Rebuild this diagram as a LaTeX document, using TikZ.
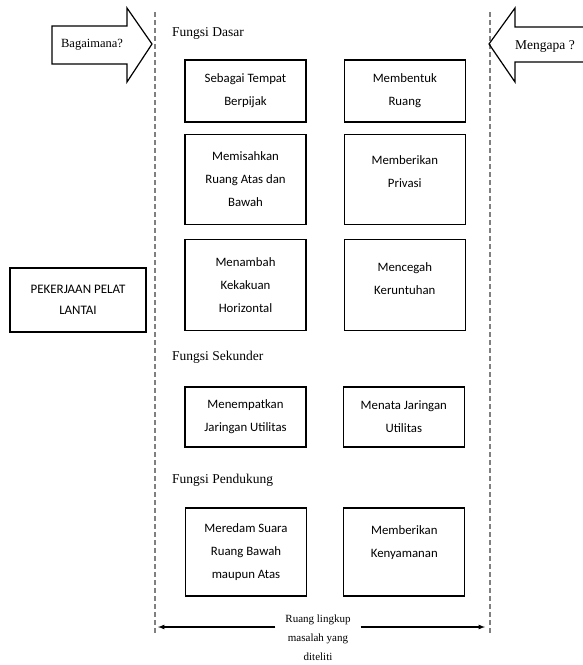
\documentclass[tikz,border=0pt]{standalone}
\usepackage{fontspec}
\setmainfont{Liberation Serif}
\newfontfamily\boxfont{Carlito}
\usetikzlibrary{positioning}

\tikzset{
	fungsi/.style={draw, line width=1.3pt, minimum width=121pt, align=center, inner sep=0pt,
		font=\boxfont\fontsize{12.8}{23}\selectfont},
	judul/.style={anchor=west, inner sep=0pt, font=\fontsize{13.5}{16}\selectfont},
	batas/.style={draw=gray, line width=1.2pt, dash pattern=on 5pt off 3pt},
	panah/.style={draw, line width=1.2pt, line join=miter},
}

\begin{document}
\begin{tikzpicture}[x=1pt,y=-1pt]
	\useasboundingbox (0,0) rectangle (583,665);

	% garis batas ruang lingkup
	\draw[batas] (155,12) -- (155,635);
	\draw[batas] (490,12) -- (490,635);

	% panah pertanyaan
	\draw[panah] (52,26) -- (127,26) -- (127,8) -- (152,44) -- (127,82) -- (127,64) -- (52,64) -- cycle;
	\node[font=\fontsize{12.5}{15}\selectfont] (bagaimana) at (92,45) {Bagaimana?};
	\draw[panah] (590,27) -- (515,27) -- (515,8) -- (489,44) -- (515,82) -- (515,62) -- (590,62);
	\node[font=\fontsize{13.5}{15}\selectfont] (mengapa) at (545,46) {Mengapa ?};

	% objek
	\node[fungsi, font=\boxfont\fontsize{13}{21}\selectfont, minimum width=136pt, minimum height=64pt] (pelat) at (78,300) {PEKERJAAN PELAT\\LANTAI};

	% fungsi dasar
	\node[judul] (dasar) at (172,33) {Fungsi Dasar};
	\node[fungsi, minimum height=62pt] (pijak) at (245.5,91) {Sebagai Tempat\\Berpijak};
	\node[fungsi, minimum height=62pt, right=37pt of pijak] (bentuk) {Membentuk\\Ruang};
	\node[fungsi, minimum height=90pt, below=11pt of pijak] (pisah) {Memisahkan\\Ruang Atas dan\\Bawah};
	\node[fungsi, minimum height=90pt, below=11pt of bentuk] (privasi) {Memberikan\\Privasi\\[-7pt]};
	\node[fungsi, minimum height=91pt, below=14pt of pisah] (kaku) {Menambah\\Kekakuan\\Horizontal};
	\node[fungsi, minimum height=91pt, below=14pt of privasi] (runtuh) {Mencegah\\Keruntuhan\\[-9pt]};

	% fungsi sekunder
	\node[judul] (sekunder) at (172,357) {Fungsi Sekunder};
	\node[fungsi, minimum height=60pt] (tempatkan) at (245.5,417) {Menempatkan\\Jaringan Utilitas};
	\node[fungsi, minimum height=60pt, right=36pt of tempatkan] (tata) {Menata Jaringan\\Utilitas};

	% fungsi pendukung
	\node[judul] (pendukung) at (172,480) {Fungsi Pendukung};
	\node[fungsi, minimum height=88pt] (redam) at (246,552) {Meredam Suara\\Ruang Bawah\\maupun Atas};
	\node[fungsi, minimum height=88pt, right=36pt of redam] (nyaman) {Memberikan\\Kenyamanan\\[-3pt]};

	% ruang lingkup
	\coordinate (ujungkiri) at (158,627);
	\coordinate (ujungkanan) at (485,627);
	\node[align=center, inner xsep=10pt, inner ysep=0pt, font=\fontsize{11}{19}\selectfont] (lingkup) at (318,638)
		{Ruang lingkup\\masalah yang\\diteliti};
	\draw[line width=1.2pt,-latex] (lingkup.west |- ujungkiri) -- (ujungkiri);
	\draw[line width=1.2pt,-latex] (lingkup.east |- ujungkanan) -- (ujungkanan);
\end{tikzpicture}
\end{document}
